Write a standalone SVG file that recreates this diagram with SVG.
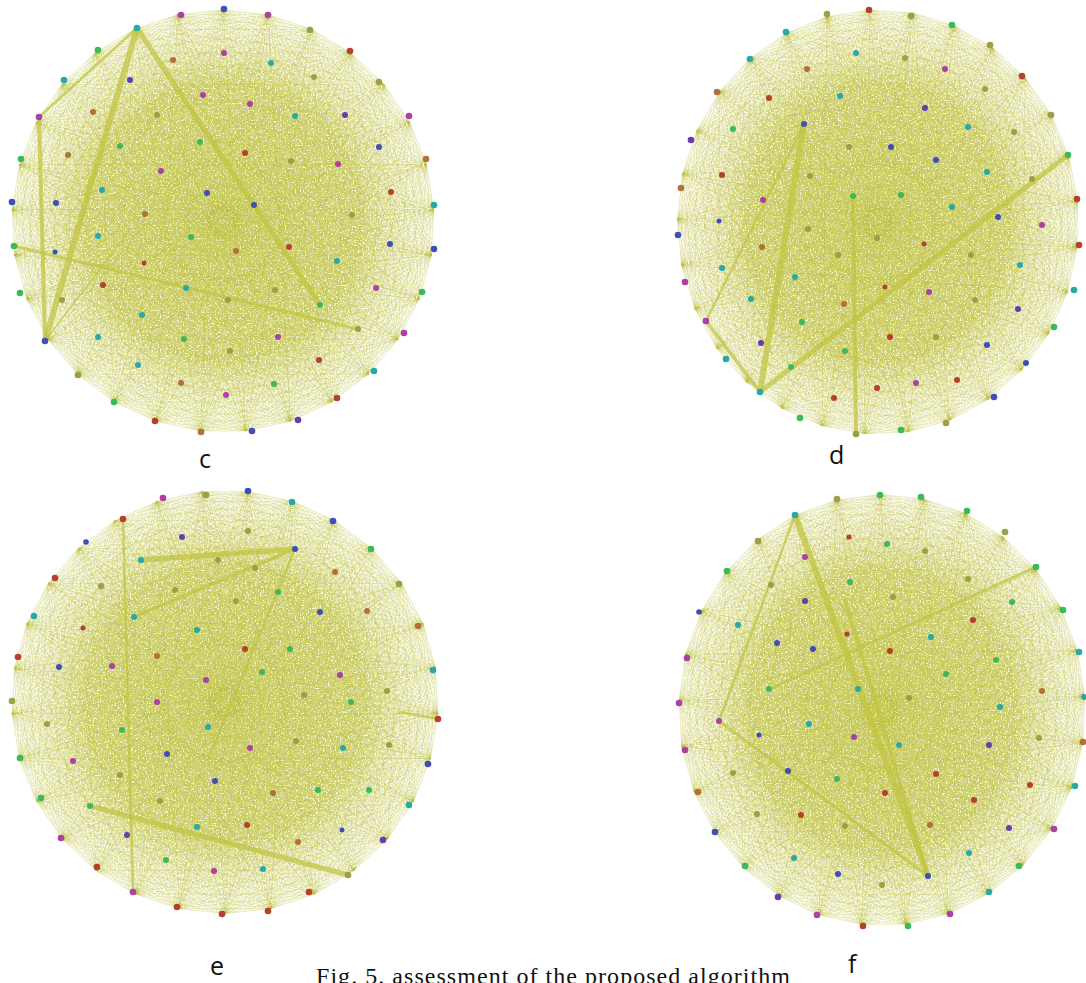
<svg xmlns="http://www.w3.org/2000/svg" width="1086" height="983" viewBox="0 0 1086 983">
<style>
.b{fill:#3f4fb8}.v{fill:#6a3cae}.m{fill:#ab3fa6}.t{fill:#2ca8a8}.g{fill:#3db85a}.r{fill:#b5402f}.o{fill:#b2703a}.y{fill:#9c9f45}
circle{stroke:none}
.th{stroke:#c0c340;fill:none;stroke-linecap:round;opacity:.72}
.fan{stroke:#c0c348;stroke-width:.4;fill:none;opacity:.42}
.lab{font-family:"Open Sans","Noto Sans",sans-serif;font-size:25px;fill:#111}
.cap{font-family:"Liberation Serif",serif;font-size:24px;fill:#111}
</style>
<defs>
<radialGradient id="base"><stop offset="0" stop-color="#c3c64c" stop-opacity=".85"/><stop offset=".65" stop-color="#c6c955" stop-opacity=".78"/><stop offset=".85" stop-color="#d2d477" stop-opacity=".35"/><stop offset="1" stop-color="#dfe19c" stop-opacity=".05"/></radialGradient>
<radialGradient id="sp"><stop offset="0" stop-opacity=".6"/><stop offset=".7" stop-opacity=".9"/><stop offset="1" stop-opacity="1"/></radialGradient>
<filter id="speck" x="0" y="0" width="1" height="1"><feTurbulence type="fractalNoise" baseFrequency=".6" numOctaves="2" seed="4"/><feColorMatrix values="0 0 0 0 1 0 0 0 0 1 0 0 0 0 .88 6 0 0 0 -3.3"/><feComposite in2="SourceAlpha" operator="in"/></filter>
<filter id="soft" x="0" y="0" width="1" height="1"><feGaussianBlur stdDeviation=".45"/></filter>
<path id="fan" class="fan" d="M0-210L45-205M0-210L88-191M0-210L127-167M0-210L160-136M0-210L185-99M0-210L202-56M0-210L210-11M0-210L207 34M0-210L195 78M0-210L174 118M0-210L145 152M0-210L108 180M0-210L67 199M0-210L23 209M0-210L-45-205M0-210L-88-191M0-210L-127-167M0-210L-160-136M0-210L-185-99M0-210L-202-56M0-210L-210-11M0-210L-207 34M0-210L-195 78M0-210L-174 118M0-210L-145 152M0-210L-108 180M0-210L-67 199M0-210L-23 209M0-210L40-60M0-210L-50-30M0-210L70 40M0-210L-80 60M0-210L20 100M0-210L-20-120M0-210L60-150M0-210L-70-160M0-210L3 30M0-210L-6 12M0-210L14 8M0-210L-12 60"/>
<g id="mesh">
<use href="#fan"/><use href="#fan" transform="rotate(12.41)"/><use href="#fan" transform="rotate(24.83)"/><use href="#fan" transform="rotate(37.24)"/><use href="#fan" transform="rotate(49.66)"/><use href="#fan" transform="rotate(62.07)"/><use href="#fan" transform="rotate(74.48)"/><use href="#fan" transform="rotate(86.9)"/><use href="#fan" transform="rotate(99.31)"/><use href="#fan" transform="rotate(111.72)"/><use href="#fan" transform="rotate(124.14)"/><use href="#fan" transform="rotate(136.55)"/><use href="#fan" transform="rotate(148.97)"/><use href="#fan" transform="rotate(161.38)"/><use href="#fan" transform="rotate(173.79)"/><use href="#fan" transform="rotate(186.21)"/><use href="#fan" transform="rotate(198.62)"/><use href="#fan" transform="rotate(211.03)"/><use href="#fan" transform="rotate(223.45)"/><use href="#fan" transform="rotate(235.86)"/><use href="#fan" transform="rotate(248.28)"/><use href="#fan" transform="rotate(260.69)"/><use href="#fan" transform="rotate(273.1)"/><use href="#fan" transform="rotate(285.52)"/><use href="#fan" transform="rotate(297.93)"/><use href="#fan" transform="rotate(310.34)"/><use href="#fan" transform="rotate(322.76)"/><use href="#fan" transform="rotate(335.17)"/><use href="#fan" transform="rotate(347.59)"/>
</g>
</defs>
<rect width="1086" height="983" fill="#fff"/>
<g id="connectors">
<g id="edges-c"><ellipse cx="223" cy="221" rx="211" ry="211" fill="url(#base)"/><use href="#mesh" transform="translate(223,221) scale(1.005)"/><ellipse cx="223" cy="221" rx="209" ry="209" fill="url(#sp)" filter="url(#speck)"/>
<path class="th" stroke-width="6" d="M137 28L45 341"/><path class="th" stroke-width="5" d="M137 28L320 305"/><path class="th" stroke-width="4" d="M39 117L45 341"/><path class="th" stroke-width="2.5" d="M137 28L39 117"/><path class="th" stroke-width="3" d="M14 246L358 329"/><path class="th" stroke-width="1.5" d="M45 341L130 230"/></g>
<g id="edges-d"><ellipse cx="878" cy="222" rx="200" ry="212" fill="url(#base)"/><use href="#mesh" transform="translate(878,222) scale(.955,1.01) rotate(-2.4)"/><ellipse cx="878" cy="222" rx="198" ry="210" fill="url(#sp)" filter="url(#speck)"/>
<path class="th" stroke-width="6" d="M760 392L804 124"/><path class="th" stroke-width="5" d="M760 392L1068 155"/><path class="th" stroke-width="3.5" d="M706 321L760 392"/><path class="th" stroke-width="4" d="M853 196L856 434"/><path class="th" stroke-width="2.5" d="M706 321L804 124"/></g>
<g id="edges-e"><ellipse cx="225" cy="702" rx="213" ry="212" fill="url(#base)"/><use href="#mesh" transform="translate(225,702) scale(1.015,1.007) rotate(6.2)"/><ellipse cx="225" cy="702" rx="211" ry="210" fill="url(#sp)" filter="url(#speck)"/>
<path class="th" stroke-width="5.5" d="M141 560L295 549"/><path class="th" stroke-width="3.5" d="M134 617L295 549"/><path class="th" stroke-width="5" d="M90 806L348 875"/><path class="th" stroke-width="2.5" d="M123 519L133 892M295 549L208 760M400 712L438 719"/></g>
<g id="edges-f"><ellipse cx="882" cy="710" rx="203" ry="215" fill="url(#base)"/><use href="#mesh" transform="translate(882,710) scale(.967,1.026) rotate(-.5)"/><ellipse cx="882" cy="710" rx="201" ry="213" fill="url(#sp)" filter="url(#speck)"/>
<path class="th" stroke-width="6" d="M795 515L928 876"/><path class="th" stroke-width="4" d="M845 600L928 876"/><path class="th" stroke-width="2.5" d="M795 515L719 721"/><path class="th" stroke-width="3" d="M719 721L928 876"/><path class="th" stroke-width="3" d="M1036 567L770 689"/></g>
</g>
<g id="graph-c" filter="url(#soft)">
<g id="c1"><circle class="b" cx="224" cy="9" r="3.3"/></g><g id="c2"><circle class="m" cx="181" cy="15" r="3.3"/></g><g id="c3"><circle class="m" cx="268" cy="15" r="3.3"/></g><g id="c4"><circle class="t" cx="137" cy="28" r="3.3"/></g><g id="c5"><circle class="g" cx="98" cy="50" r="3.3"/></g><g id="c6"><circle class="t" cx="64" cy="80" r="3.3"/></g><g id="c7"><circle class="m" cx="39" cy="117" r="3.3"/></g><g id="c8"><circle class="g" cx="21" cy="159" r="3.3"/></g><g id="c9"><circle class="b" cx="12" cy="202" r="3.3"/></g><g id="c10"><circle class="g" cx="14" cy="246" r="3.3"/></g><g id="c11"><circle class="g" cx="20" cy="293" r="3.3"/></g><g id="c12"><circle class="b" cx="45" cy="341" r="3.3"/></g><g id="c13"><circle class="y" cx="78" cy="375" r="3.3"/></g><g id="c14"><circle class="g" cx="114" cy="402" r="3.3"/></g><g id="c15"><circle class="r" cx="155" cy="421" r="3.3"/></g><g id="c16"><circle class="o" cx="201" cy="432" r="3.3"/></g><g id="c17"><circle class="b" cx="252" cy="431" r="3.3"/></g><g id="c18"><circle class="v" cx="298" cy="420" r="3.3"/></g><g id="c19"><circle class="r" cx="337" cy="398" r="3.3"/></g><g id="c20"><circle class="t" cx="374" cy="371" r="3.3"/></g><g id="c21"><circle class="m" cx="404" cy="333" r="3.3"/></g><g id="c22"><circle class="g" cx="422" cy="292" r="3.3"/></g><g id="c23"><circle class="b" cx="434" cy="249" r="3.3"/></g><g id="c24"><circle class="t" cx="434" cy="205" r="3.3"/></g><g id="c25"><circle class="o" cx="426" cy="159" r="3.3"/></g><g id="c26"><circle class="m" cx="409" cy="116" r="3.3"/></g><g id="c27"><circle class="y" cx="379" cy="82" r="3.3"/></g><g id="c28"><circle class="r" cx="350" cy="51" r="3.3"/></g><g id="c29"><circle class="y" cx="310" cy="30" r="3.3"/></g>
<g id="c30"><circle class="o" cx="173" cy="60" r="3"/></g><g id="c31"><circle class="m" cx="224" cy="53" r="3"/></g><g id="c32"><circle class="t" cx="271" cy="63" r="3"/></g><g id="c33"><circle class="v" cx="130" cy="80" r="3"/></g><g id="c34"><circle class="m" cx="203" cy="95" r="3"/></g><g id="c35"><circle class="y" cx="314" cy="77" r="3"/></g><g id="c36"><circle class="o" cx="93" cy="112" r="3"/></g><g id="c37"><circle class="y" cx="157" cy="115" r="3"/></g><g id="c38"><circle class="m" cx="250" cy="104" r="3"/></g><g id="c39"><circle class="v" cx="345" cy="115" r="3"/></g><g id="c40"><circle class="t" cx="295" cy="116" r="3"/></g><g id="c41"><circle class="g" cx="120" cy="146" r="3"/></g><g id="c42"><circle class="g" cx="200" cy="142" r="3"/></g><g id="c43"><circle class="b" cx="379" cy="147" r="3"/></g><g id="c44"><circle class="o" cx="68" cy="155" r="3"/></g><g id="c45"><circle class="m" cx="161" cy="171" r="3"/></g><g id="c46"><circle class="r" cx="245" cy="153" r="3"/></g><g id="c47"><circle class="y" cx="291" cy="161" r="3"/></g><g id="c48"><circle class="m" cx="338" cy="164" r="3"/></g><g id="c49"><circle class="t" cx="102" cy="190" r="3"/></g><g id="c50"><circle class="b" cx="56" cy="203" r="3"/></g><g id="c51"><circle class="b" cx="207" cy="193" r="3"/></g><g id="c52"><circle class="b" cx="254" cy="205" r="3"/></g><g id="c53"><circle class="r" cx="391" cy="192" r="3"/></g><g id="c54"><circle class="o" cx="145" cy="214" r="3"/></g><g id="c55"><circle class="y" cx="352" cy="215" r="3"/></g><g id="c56"><circle class="t" cx="98" cy="236" r="3"/></g><g id="c57"><circle class="g" cx="191" cy="237" r="3"/></g><g id="c58"><circle class="b" cx="55" cy="252" r="2.5"/></g><g id="c59"><circle class="o" cx="236" cy="251" r="3"/></g><g id="c60"><circle class="r" cx="289" cy="247" r="3"/></g><g id="c61"><circle class="b" cx="390" cy="244" r="3"/></g><g id="c62"><circle class="r" cx="144" cy="263" r="2.5"/></g><g id="c63"><circle class="t" cx="337" cy="261" r="3"/></g><g id="c64"><circle class="r" cx="103" cy="285" r="3"/></g><g id="c65"><circle class="t" cx="186" cy="288" r="3"/></g><g id="c66"><circle class="y" cx="275" cy="290" r="3"/></g><g id="c67"><circle class="m" cx="376" cy="288" r="3"/></g><g id="c68"><circle class="y" cx="62" cy="300" r="3"/></g><g id="c69"><circle class="y" cx="228" cy="300" r="3"/></g><g id="c70"><circle class="g" cx="320" cy="305" r="3"/></g><g id="c71"><circle class="t" cx="142" cy="315" r="3"/></g><g id="c72"><circle class="y" cx="358" cy="329" r="3"/></g><g id="c73"><circle class="t" cx="98" cy="337" r="3"/></g><g id="c74"><circle class="g" cx="184" cy="339" r="3"/></g><g id="c75"><circle class="m" cx="278" cy="337" r="3"/></g><g id="c76"><circle class="t" cx="138" cy="365" r="3"/></g><g id="c77"><circle class="y" cx="230" cy="351" r="3"/></g><g id="c78"><circle class="r" cx="319" cy="360" r="3"/></g><g id="c79"><circle class="o" cx="181" cy="383" r="3"/></g><g id="c80"><circle class="m" cx="226" cy="395" r="3"/></g><g id="c81"><circle class="g" cx="274" cy="384" r="3"/></g>
</g>
<g id="graph-d" filter="url(#soft)">
<g id="d1"><circle class="r" cx="869" cy="10" r="3.3"/></g><g id="d2"><circle class="y" cx="827" cy="14" r="3.3"/></g><g id="d3"><circle class="y" cx="911" cy="16" r="3.3"/></g><g id="d4"><circle class="g" cx="952" cy="25" r="3.3"/></g><g id="d5"><circle class="t" cx="786" cy="32" r="3.3"/></g><g id="d6"><circle class="y" cx="990" cy="45" r="3.3"/></g><g id="d7"><circle class="t" cx="750" cy="59" r="3.3"/></g><g id="d8"><circle class="r" cx="1022" cy="76" r="3.3"/></g><g id="d9"><circle class="o" cx="717" cy="92" r="3.3"/></g><g id="d10"><circle class="y" cx="1051" cy="115" r="3.3"/></g><g id="d11"><circle class="v" cx="691" cy="140" r="3.3"/></g><g id="d12"><circle class="g" cx="1068" cy="155" r="3.3"/></g><g id="d13"><circle class="o" cx="681" cy="188" r="3.3"/></g><g id="d14"><circle class="r" cx="1077" cy="199" r="3.3"/></g><g id="d15"><circle class="b" cx="678" cy="235" r="3.3"/></g><g id="d16"><circle class="r" cx="1079" cy="245" r="3.3"/></g><g id="d17"><circle class="m" cx="685" cy="282" r="3.3"/></g><g id="d18"><circle class="t" cx="1074" cy="290" r="3.3"/></g><g id="d19"><circle class="m" cx="706" cy="321" r="3.3"/></g><g id="d20"><circle class="g" cx="1054" cy="327" r="3.3"/></g><g id="d21"><circle class="t" cx="726" cy="359" r="3.3"/></g><g id="d22"><circle class="b" cx="1026" cy="363" r="3"/></g><g id="d23"><circle class="t" cx="760" cy="392" r="3.3"/></g><g id="d24"><circle class="b" cx="994" cy="397" r="3.3"/></g><g id="d25"><circle class="g" cx="800" cy="418" r="3.3"/></g><g id="d26"><circle class="y" cx="946" cy="423" r="3.3"/></g><g id="d27"><circle class="y" cx="856" cy="434" r="3.3"/></g><g id="d28"><circle class="g" cx="901" cy="430" r="3.3"/></g>
<g id="d29"><circle class="o" cx="807" cy="69" r="3"/></g><g id="d30"><circle class="t" cx="856" cy="53" r="3"/></g><g id="d31"><circle class="y" cx="905" cy="58" r="3"/></g><g id="d32"><circle class="m" cx="945" cy="69" r="3"/></g><g id="d33"><circle class="y" cx="985" cy="89" r="3"/></g><g id="d34"><circle class="g" cx="733" cy="129" r="3"/></g><g id="d35"><circle class="r" cx="769" cy="98" r="3"/></g><g id="d36"><circle class="t" cx="840" cy="96" r="3"/></g><g id="d37"><circle class="b" cx="804" cy="124" r="3"/></g><g id="d38"><circle class="v" cx="925" cy="108" r="3"/></g><g id="d39"><circle class="t" cx="968" cy="127" r="3"/></g><g id="d40"><circle class="y" cx="1014" cy="132" r="3"/></g><g id="d41"><circle class="r" cx="722" cy="175" r="3"/></g><g id="d42"><circle class="m" cx="763" cy="200" r="3"/></g><g id="d43"><circle class="y" cx="810" cy="176" r="3"/></g><g id="d44"><circle class="y" cx="849" cy="147" r="3"/></g><g id="d45"><circle class="b" cx="891" cy="147" r="3"/></g><g id="d46"><circle class="b" cx="936" cy="160" r="3"/></g><g id="d47"><circle class="t" cx="987" cy="172" r="3"/></g><g id="d48"><circle class="y" cx="1032" cy="179" r="3"/></g><g id="d49"><circle class="b" cx="719" cy="221" r="2.5"/></g><g id="d50"><circle class="g" cx="853" cy="196" r="3"/></g><g id="d51"><circle class="g" cx="901" cy="195" r="3"/></g><g id="d52"><circle class="t" cx="952" cy="207" r="3"/></g><g id="d53"><circle class="b" cx="998" cy="217" r="3"/></g><g id="d54"><circle class="o" cx="762" cy="247" r="3"/></g><g id="d55"><circle class="y" cx="808" cy="229" r="3"/></g><g id="d56"><circle class="y" cx="877" cy="238" r="3"/></g><g id="d57"><circle class="r" cx="924" cy="244" r="2.5"/></g><g id="d58"><circle class="m" cx="1042" cy="225" r="3"/></g><g id="d59"><circle class="t" cx="722" cy="268" r="3"/></g><g id="d60"><circle class="t" cx="795" cy="277" r="3"/></g><g id="d61"><circle class="y" cx="838" cy="255" r="3"/></g><g id="d62"><circle class="y" cx="971" cy="255" r="3"/></g><g id="d63"><circle class="t" cx="1020" cy="265" r="3"/></g><g id="d64"><circle class="r" cx="885" cy="287" r="2.5"/></g><g id="d65"><circle class="m" cx="929" cy="292" r="3"/></g><g id="d66"><circle class="t" cx="751" cy="299" r="3"/></g><g id="d67"><circle class="o" cx="844" cy="304" r="3"/></g><g id="d68"><circle class="y" cx="975" cy="300" r="3"/></g><g id="d69"><circle class="v" cx="1018" cy="309" r="3"/></g><g id="d70"><circle class="g" cx="802" cy="322" r="3"/></g><g id="d71"><circle class="r" cx="890" cy="337" r="3"/></g><g id="d72"><circle class="y" cx="936" cy="337" r="3"/></g><g id="d73"><circle class="v" cx="761" cy="343" r="3"/></g><g id="d74"><circle class="b" cx="987" cy="345" r="3"/></g><g id="d75"><circle class="g" cx="845" cy="351" r="3"/></g><g id="d76"><circle class="g" cx="791" cy="367" r="3"/></g><g id="d77"><circle class="r" cx="834" cy="398" r="3"/></g><g id="d78"><circle class="r" cx="877" cy="388" r="3"/></g><g id="d79"><circle class="m" cx="916" cy="383" r="3"/></g><g id="d80"><circle class="r" cx="957" cy="380" r="3"/></g>
</g>
<g id="graph-e" filter="url(#soft)">
<g id="e1"><circle class="b" cx="248" cy="491" r="3.3"/></g><g id="e2"><circle class="y" cx="206" cy="495" r="3.3"/></g><g id="e3"><circle class="m" cx="163" cy="498" r="3.3"/></g><g id="e4"><circle class="t" cx="292" cy="502" r="3.3"/></g><g id="e5"><circle class="r" cx="123" cy="519" r="3.3"/></g><g id="e6"><circle class="b" cx="333" cy="521" r="3.3"/></g><g id="e7"><circle class="b" cx="86" cy="542" r="2.8"/></g><g id="e8"><circle class="g" cx="371" cy="549" r="3.3"/></g><g id="e9"><circle class="r" cx="55" cy="578" r="3.3"/></g><g id="e10"><circle class="y" cx="399" cy="584" r="3.3"/></g><g id="e11"><circle class="t" cx="34" cy="616" r="3.3"/></g><g id="e12"><circle class="o" cx="418" cy="626" r="3.3"/></g><g id="e13"><circle class="r" cx="18" cy="657" r="3.3"/></g><g id="e14"><circle class="t" cx="433" cy="670" r="3.3"/></g><g id="e15"><circle class="y" cx="12" cy="701" r="3.3"/></g><g id="e16"><circle class="r" cx="438" cy="719" r="3.3"/></g><g id="e17"><circle class="g" cx="20" cy="758" r="3.3"/></g><g id="e18"><circle class="b" cx="428" cy="764" r="3.3"/></g><g id="e19"><circle class="g" cx="41" cy="798" r="3.3"/></g><g id="e20"><circle class="t" cx="409" cy="805" r="3.3"/></g><g id="e21"><circle class="m" cx="61" cy="838" r="3.3"/></g><g id="e22"><circle class="v" cx="383" cy="840" r="3.3"/></g><g id="e23"><circle class="r" cx="97" cy="867" r="3.3"/></g><g id="e24"><circle class="y" cx="348" cy="875" r="3.3"/></g><g id="e25"><circle class="m" cx="133" cy="892" r="3.3"/></g><g id="e26"><circle class="r" cx="309" cy="892" r="3.3"/></g><g id="e27"><circle class="r" cx="177" cy="907" r="3.3"/></g><g id="e28"><circle class="r" cx="268" cy="911" r="3.3"/></g><g id="e29"><circle class="r" cx="222" cy="914" r="3.3"/></g>
<g id="e30"><circle class="v" cx="182" cy="537" r="3"/></g><g id="e31"><circle class="t" cx="141" cy="560" r="3"/></g><g id="e32"><circle class="b" cx="295" cy="549" r="3"/></g><g id="e33"><circle class="y" cx="248" cy="531" r="3"/></g><g id="e34"><circle class="y" cx="218" cy="560" r="3"/></g><g id="e35"><circle class="y" cx="255" cy="568" r="3"/></g><g id="e36"><circle class="o" cx="335" cy="572" r="3"/></g><g id="e37"><circle class="y" cx="101" cy="586" r="3"/></g><g id="e38"><circle class="y" cx="175" cy="590" r="3"/></g><g id="e39"><circle class="g" cx="278" cy="592" r="3"/></g><g id="e40"><circle class="t" cx="134" cy="617" r="3"/></g><g id="e41"><circle class="y" cx="236" cy="601" r="3"/></g><g id="e42"><circle class="r" cx="83" cy="628" r="2.5"/></g><g id="e43"><circle class="t" cx="197" cy="630" r="3"/></g><g id="e44"><circle class="b" cx="320" cy="612" r="3"/></g><g id="e45"><circle class="o" cx="367" cy="611" r="3"/></g><g id="e46"><circle class="b" cx="59" cy="667" r="3"/></g><g id="e47"><circle class="m" cx="112" cy="666" r="3"/></g><g id="e48"><circle class="o" cx="157" cy="656" r="3"/></g><g id="e49"><circle class="r" cx="245" cy="649" r="3"/></g><g id="e50"><circle class="g" cx="290" cy="649" r="3"/></g><g id="e51"><circle class="m" cx="206" cy="680" r="3"/></g><g id="e52"><circle class="g" cx="262" cy="672" r="3"/></g><g id="e53"><circle class="m" cx="340" cy="675" r="3"/></g><g id="e54"><circle class="m" cx="157" cy="702" r="3"/></g><g id="e55"><circle class="y" cx="304" cy="695" r="3"/></g><g id="e56"><circle class="y" cx="387" cy="691" r="3"/></g><g id="e57"><circle class="g" cx="351" cy="702" r="3"/></g><g id="e58"><circle class="g" cx="122" cy="730" r="3"/></g><g id="e59"><circle class="t" cx="208" cy="727" r="3"/></g><g id="e60"><circle class="y" cx="47" cy="724" r="3"/></g><g id="e61"><circle class="m" cx="250" cy="748" r="3"/></g><g id="e62"><circle class="y" cx="296" cy="741" r="3"/></g><g id="e63"><circle class="t" cx="343" cy="748" r="3"/></g><g id="e64"><circle class="y" cx="389" cy="745" r="3"/></g><g id="e65"><circle class="m" cx="73" cy="761" r="3"/></g><g id="e66"><circle class="b" cx="167" cy="754" r="3"/></g><g id="e67"><circle class="y" cx="120" cy="775" r="3"/></g><g id="e68"><circle class="b" cx="215" cy="781" r="3"/></g><g id="e69"><circle class="o" cx="273" cy="793" r="3"/></g><g id="e70"><circle class="g" cx="318" cy="790" r="3"/></g><g id="e71"><circle class="g" cx="369" cy="790" r="3"/></g><g id="e72"><circle class="y" cx="160" cy="801" r="3"/></g><g id="e73"><circle class="g" cx="90" cy="806" r="3"/></g><g id="e74"><circle class="t" cx="197" cy="827" r="3"/></g><g id="e75"><circle class="r" cx="247" cy="825" r="3"/></g><g id="e76"><circle class="b" cx="342" cy="830" r="2.5"/></g><g id="e77"><circle class="v" cx="127" cy="835" r="3"/></g><g id="e78"><circle class="g" cx="166" cy="860" r="3"/></g><g id="e79"><circle class="m" cx="214" cy="871" r="3"/></g><g id="e80"><circle class="t" cx="263" cy="869" r="3"/></g><g id="e81"><circle class="o" cx="298" cy="842" r="3"/></g>
</g>
<g id="graph-f" filter="url(#soft)">
<g id="f1"><circle class="g" cx="880" cy="495" r="3.3"/></g><g id="f2"><circle class="g" cx="921" cy="497" r="3.3"/></g><g id="f3"><circle class="y" cx="837" cy="499" r="3.3"/></g><g id="f4"><circle class="t" cx="795" cy="515" r="3.3"/></g><g id="f5"><circle class="g" cx="967" cy="511" r="3.3"/></g><g id="f6"><circle class="y" cx="758" cy="541" r="3.3"/></g><g id="f7"><circle class="y" cx="1005" cy="532" r="3.3"/></g><g id="f8"><circle class="g" cx="727" cy="571" r="3.3"/></g><g id="f9"><circle class="g" cx="1036" cy="567" r="3.3"/></g><g id="f10"><circle class="b" cx="699" cy="612" r="2.8"/></g><g id="f11"><circle class="g" cx="1063" cy="610" r="3.3"/></g><g id="f12"><circle class="m" cx="687" cy="658" r="3.3"/></g><g id="f13"><circle class="t" cx="1079" cy="652" r="3.3"/></g><g id="f14"><circle class="m" cx="679" cy="703" r="3.3"/></g><g id="f15"><circle class="t" cx="1084" cy="697" r="3"/></g><g id="f16"><circle class="m" cx="685" cy="750" r="3.3"/></g><g id="f17"><circle class="o" cx="1083" cy="742" r="3.3"/></g><g id="f18"><circle class="o" cx="698" cy="792" r="3.3"/></g><g id="f19"><circle class="t" cx="1075" cy="786" r="3.3"/></g><g id="f20"><circle class="b" cx="715" cy="832" r="3.3"/></g><g id="f21"><circle class="m" cx="1054" cy="829" r="3.3"/></g><g id="f22"><circle class="g" cx="745" cy="866" r="3.3"/></g><g id="f23"><circle class="g" cx="1019" cy="866" r="3.3"/></g><g id="f24"><circle class="v" cx="778" cy="897" r="3.3"/></g><g id="f25"><circle class="t" cx="989" cy="892" r="3.3"/></g><g id="f26"><circle class="m" cx="817" cy="915" r="3.3"/></g><g id="f27"><circle class="m" cx="950" cy="914" r="3.3"/></g><g id="f28"><circle class="r" cx="863" cy="926" r="3.3"/></g><g id="f29"><circle class="g" cx="908" cy="926" r="3.3"/></g>
<g id="f30"><circle class="r" cx="849" cy="537" r="2.6"/></g><g id="f31"><circle class="m" cx="805" cy="557" r="3"/></g><g id="f32"><circle class="g" cx="887" cy="544" r="3"/></g><g id="f33"><circle class="y" cx="925" cy="551" r="3"/></g><g id="f34"><circle class="y" cx="771" cy="585" r="3"/></g><g id="f35"><circle class="g" cx="850" cy="582" r="3"/></g><g id="f36"><circle class="v" cx="805" cy="601" r="3"/></g><g id="f37"><circle class="y" cx="893" cy="597" r="3"/></g><g id="f38"><circle class="y" cx="968" cy="579" r="3"/></g><g id="f39"><circle class="g" cx="1012" cy="602" r="3"/></g><g id="f40"><circle class="t" cx="738" cy="625" r="3"/></g><g id="f41"><circle class="r" cx="847" cy="634" r="2.6"/></g><g id="f42"><circle class="t" cx="931" cy="637" r="3"/></g><g id="f43"><circle class="r" cx="973" cy="620" r="3"/></g><g id="f44"><circle class="b" cx="777" cy="643" r="3"/></g><g id="f45"><circle class="r" cx="890" cy="651" r="3"/></g><g id="f46"><circle class="g" cx="996" cy="660" r="3"/></g><g id="f47"><circle class="b" cx="813" cy="649" r="3"/></g><g id="f48"><circle class="g" cx="769" cy="689" r="3"/></g><g id="f49"><circle class="t" cx="858" cy="689" r="3"/></g><g id="f50"><circle class="g" cx="946" cy="674" r="3"/></g><g id="f51"><circle class="o" cx="1042" cy="691" r="3"/></g><g id="f52"><circle class="m" cx="719" cy="721" r="3"/></g><g id="f53"><circle class="t" cx="809" cy="724" r="3"/></g><g id="f54"><circle class="y" cx="909" cy="698" r="3"/></g><g id="f55"><circle class="t" cx="1000" cy="707" r="3"/></g><g id="f56"><circle class="b" cx="759" cy="735" r="2.5"/></g><g id="f57"><circle class="m" cx="854" cy="737" r="3"/></g><g id="f58"><circle class="t" cx="899" cy="745" r="3"/></g><g id="f59"><circle class="v" cx="989" cy="745" r="3"/></g><g id="f60"><circle class="y" cx="1039" cy="738" r="3"/></g><g id="f61"><circle class="y" cx="733" cy="773" r="3"/></g><g id="f62"><circle class="b" cx="788" cy="771" r="3"/></g><g id="f63"><circle class="g" cx="837" cy="779" r="3"/></g><g id="f64"><circle class="r" cx="936" cy="774" r="3"/></g><g id="f65"><circle class="r" cx="1030" cy="785" r="3"/></g><g id="f66"><circle class="r" cx="885" cy="793" r="3"/></g><g id="f67"><circle class="y" cx="757" cy="814" r="3"/></g><g id="f68"><circle class="r" cx="801" cy="815" r="3"/></g><g id="f69"><circle class="y" cx="845" cy="826" r="3"/></g><g id="f70"><circle class="o" cx="930" cy="825" r="3"/></g><g id="f71"><circle class="r" cx="974" cy="800" r="3"/></g><g id="f72"><circle class="v" cx="1009" cy="828" r="3"/></g><g id="f73"><circle class="t" cx="794" cy="858" r="3"/></g><g id="f74"><circle class="b" cx="838" cy="874" r="3"/></g><g id="f75"><circle class="y" cx="882" cy="885" r="3"/></g><g id="f76"><circle class="b" cx="928" cy="876" r="3"/></g><g id="f77"><circle class="t" cx="969" cy="853" r="3"/></g>
</g>
<g id="labels">
<text class="lab" x="199" y="468">c</text><text class="lab" x="829" y="464">d</text><text class="lab" x="210" y="975">e</text><text class="lab" x="848" y="973">f</text>
<text class="cap" x="316" y="984" textLength="474" lengthAdjust="spacing">Fig. 5. assessment of the proposed algorithm</text>
</g>
</svg>
